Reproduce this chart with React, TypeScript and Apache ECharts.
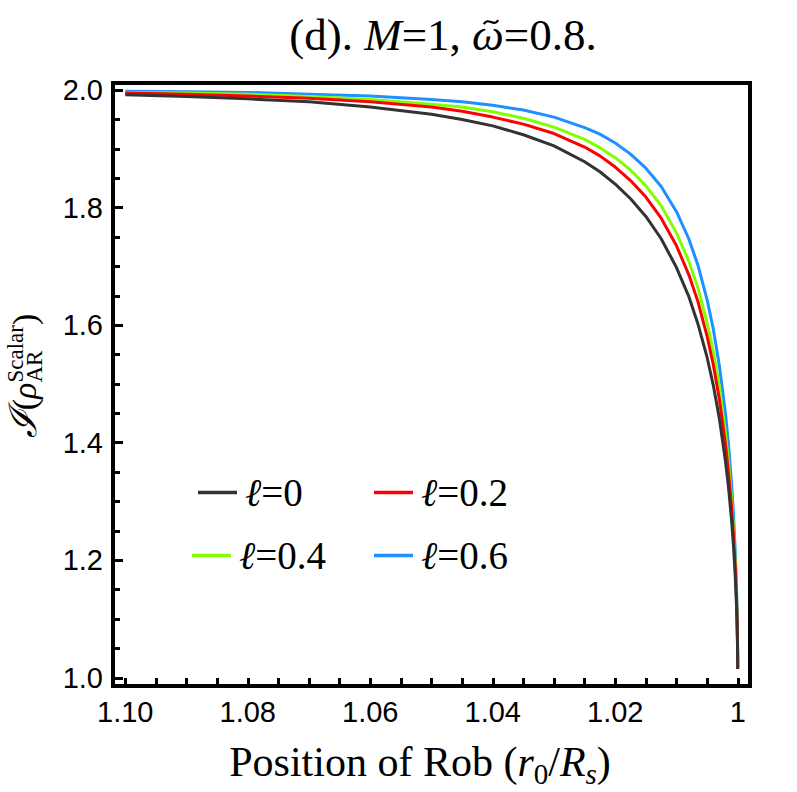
import React, { useEffect, useRef } from "react";
import * as echarts from "echarts";

// ---- data ----
const rPos = [1.000003, 1.00002, 1.00005, 1.0001, 1.0002, 1.0004, 1.0007, 1.001, 1.0015, 1.002, 1.003, 1.004, 1.005, 1.0065, 1.008, 1.01, 1.0125, 1.015, 1.0175, 1.02, 1.0225, 1.025, 1.03, 1.035, 1.04, 1.045, 1.05, 1.06, 1.07, 1.08, 1.09, 1.1];
const iL0 = [1.015, 1.039, 1.061, 1.086, 1.122, 1.171, 1.225, 1.267, 1.323, 1.368, 1.441, 1.498, 1.545, 1.602, 1.649, 1.698, 1.747, 1.785, 1.815, 1.84, 1.861, 1.878, 1.905, 1.924, 1.939, 1.950, 1.959, 1.971, 1.98, 1.985, 1.989, 1.992];
const iL02 = [1.016, 1.042, 1.066, 1.094, 1.132, 1.186, 1.244, 1.289, 1.349, 1.397, 1.474, 1.533, 1.581, 1.64, 1.686, 1.735, 1.782, 1.818, 1.846, 1.869, 1.888, 1.903, 1.926, 1.942, 1.954, 1.964, 1.971, 1.98, 1.986, 1.99, 1.993, 1.995];
const iL04 = [1.017, 1.044, 1.07, 1.099, 1.139, 1.195, 1.256, 1.303, 1.366, 1.416, 1.495, 1.555, 1.604, 1.663, 1.709, 1.757, 1.803, 1.837, 1.864, 1.885, 1.902, 1.916, 1.937, 1.952, 1.963, 1.971, 1.976, 1.984, 1.989, 1.993, 1.995, 1.996];
const iL06 = [1.019, 1.048, 1.076, 1.108, 1.152, 1.213, 1.278, 1.329, 1.396, 1.449, 1.531, 1.594, 1.643, 1.702, 1.747, 1.793, 1.836, 1.867, 1.891, 1.91, 1.925, 1.936, 1.954, 1.966, 1.974, 1.980, 1.984, 1.99, 1.993, 1.996, 1.997, 1.998];

const seriesNames = ["ℓ=0", "ℓ=0.2", "ℓ=0.4", "ℓ=0.6"];
const seriesColors = ["#333333", "#ff0000", "#80ff00", "#1e90ff"];

const xMajor = [1.0, 1.02, 1.04, 1.06, 1.08, 1.1];
const xTickLabels = ["1", "1.02", "1.04", "1.06", "1.08", "1.10"];
const xMinor = [1.0, 1.005, 1.01, 1.015, 1.02, 1.025, 1.03, 1.035, 1.04, 1.045, 1.05, 1.055, 1.06, 1.065, 1.07, 1.075, 1.08, 1.085, 1.09, 1.095, 1.1];
const yMajor = [1.0, 1.2, 1.4, 1.6, 1.8, 2.0];
const yTickLabels = ["1.0", "1.2", "1.4", "1.6", "1.8", "2.0"];
const yMinor = [1.05, 1.1, 1.15, 1.25, 1.3, 1.35, 1.45, 1.5, 1.55, 1.65, 1.7, 1.75, 1.85, 1.9, 1.95];

const X_MIN = 0.998, X_MAX = 1.102;
const Y_MIN = 0.986, Y_MAX = 2.012;

const SERIF = '"Liberation Serif", "Times New Roman", serif';
const SANS = '"Liberation Sans", Arial, sans-serif';

type Tok = { t: string; size: number; italic?: boolean; family?: string; dy?: number; stackWith?: Tok; tilde?: boolean; tildeDx?: number };

let measureCtx: CanvasRenderingContext2D | null = null;
function tw(font: string, text: string) {
  if (!measureCtx) measureCtx = document.createElement("canvas").getContext("2d");
  measureCtx!.font = font;
  return measureCtx!.measureText(text).width;
}
function fontOf(k: Tok) {
  return `${k.italic ? "italic " : ""}${k.size}px ${k.family || SERIF}`;
}
function txt(text: string, font: string, x: number, y: number, align = "left") {
  return { type: "text", x, y, style: { text, font, fill: "#000", textAlign: align, textVerticalAlign: "middle" } };
}
// lay tokens along a baseline at local y=0, centered at local x=0
function layout(tokens: Tok[]) {
  const widths = tokens.map((k) => {
    const w1 = tw(fontOf(k), k.t);
    const w2 = k.stackWith ? tw(fontOf(k.stackWith), k.stackWith.t) : 0;
    return Math.max(w1, w2);
  });
  const total = widths.reduce((a, b) => a + b, 0);
  let x = -total / 2;
  const els: any[] = [];
  tokens.forEach((k, i) => {
    const list = k.stackWith ? [k, k.stackWith] : [k];
    list.forEach((q) => {
      els.push(txt(q.t, fontOf(q), x, (q.dy || 0) - 0.34 * q.size));
    });
    if (k.tilde) {
      const cx = x + widths[i] / 2 + (k.tildeDx || 0);
      const cy = -0.62 * k.size;
      const hw = 0.16 * k.size;
      const a = 0.1 * k.size;
      els.push({
        type: "bezierCurve",
        shape: { x1: cx - hw, y1: cy + a * 0.45, cpx1: cx - hw * 0.35, cpy1: cy - a * 1.3, cpx2: cx + hw * 0.35, cpy2: cy + a * 1.3, x2: cx + hw, y2: cy - a * 0.45 },
        style: { stroke: "#000", lineWidth: 2.2, fill: null },
      });
    }
    x += widths[i];
  });
  return els;
}

function labelFrom(values: number[], labels: string[]) {
  return (v: number) => {
    for (let i = 0; i < values.length; i++) if (Math.abs(values[i] - v) < 1e-6) return labels[i];
    return "";
  };
}

export default function App() {
  const ref = useRef<HTMLDivElement>(null);
  useEffect(() => {
    const chart = echarts.init(ref.current!, null, { renderer: "svg" });
    const datas = [iL0, iL02, iL04, iL06];

    const titleTokens: Tok[] = [
      { t: "(d). ", size: 45 },
      { t: "M", size: 45, italic: true },
      { t: "=1, ", size: 45 },
      { t: "ω", size: 45, italic: true, tilde: true, tildeDx: 3 },
      { t: "=0.8.", size: 45 },
    ];
    const xNameTokens: Tok[] = [
      { t: "Position of Rob (", size: 42 },
      { t: "r", size: 42, italic: true },
      { t: "0", size: 29, dy: 8 },
      { t: "/", size: 42 },
      { t: "R", size: 42, italic: true },
      { t: "s", size: 29, italic: true, dy: 8 },
      { t: ")", size: 42 },
    ];
    const yNameTokens: Tok[] = [
      { t: "ℐ", size: 38, italic: true, family: '"DejaVu Serif", serif' },
      { t: "(", size: 34 },
      { t: "ρ", size: 34, italic: true },
      { t: "AR", size: 23, dy: 6, stackWith: { t: "Scalar", size: 23, dy: -13 } },
      { t: ")", size: 34 },
    ];

    const legendPos = [
      [198, 473],
      [374, 473],
      [192, 536],
      [374, 536],
    ];

    const option: any = {
      animation: false,
      backgroundColor: "#fff",
      grid: {
        left: 113,
        right: 47,
        top: 83,
        bottom: 106,
        show: true,
        borderColor: "#000",
        borderWidth: 4,
        backgroundColor: "transparent",
        containLabel: false,
        outerBoundsMode: "none",
      },
      xAxis: [
        {
          type: "value",
          inverse: true,
          min: X_MIN,
          max: X_MAX,
          axisLine: { show: false },
          splitLine: { show: false },
          axisTick: { show: true, inside: true, length: 8, lineStyle: { color: "#000", width: 3 }, customValues: xMinor },
          axisLabel: {
            customValues: xMajor,
            formatter: labelFrom(xMajor, xTickLabels),
            fontFamily: SANS,
            fontSize: 29,
            color: "#000",
            margin: 11,
          },
        },
      ],
      yAxis: [
        {
          type: "value",
          min: Y_MIN,
          max: Y_MAX,
          axisLine: { show: false },
          splitLine: { show: false },
          axisTick: { show: true, inside: true, length: 10, lineStyle: { color: "#000", width: 3 }, customValues: yMajor },
          axisLabel: {
            customValues: yMajor,
            formatter: labelFrom(yMajor, yTickLabels),
            fontFamily: SANS,
            fontSize: 29,
            color: "#000",
            margin: 10,
          },
        },
        {
          type: "value",
          position: "left",
          min: Y_MIN,
          max: Y_MAX,
          axisLine: { show: false },
          splitLine: { show: false },
          axisTick: { show: true, inside: true, length: 7, lineStyle: { color: "#000", width: 3 }, customValues: yMinor },
          axisLabel: { show: false },
        },
      ],
      legend: seriesNames.map((n, i) => ({
        data: [n],
        left: legendPos[i][0],
        top: legendPos[i][1],
        padding: 0,
        icon: "rect",
        itemWidth: 39,
        itemHeight: 3.5,
        selectedMode: false,
        formatter: (name: string) => `{i|ℓ}{n|${name.slice(1)}}`,
        textStyle: {
          color: "#000",
          padding: [0, 0, 0, 3],
          rich: {
            i: { fontFamily: SERIF, fontStyle: "italic", fontSize: 39, color: "#000" },
            n: { fontFamily: SERIF, fontSize: 39, color: "#000" },
          },
        },
      })),
      series: [3, 2, 1, 0].map((k) => ({
        name: seriesNames[k],
        type: "line",
        xAxisIndex: 0,
        yAxisIndex: 0,
        showSymbol: false,
        symbol: "none",
        smooth: false,
        color: seriesColors[k],
        lineStyle: { width: 3, color: seriesColors[k] },
        data: rPos.map((r, i) => [r, datas[k][i]]),
      })),
      graphic: [
        { type: "group", x: 443, y: 50, children: layout(titleTokens) },
        { type: "group", x: 420, y: 776, children: layout(xNameTokens) },
        { type: "group", x: 36, y: 376, rotation: Math.PI / 2, children: layout(yNameTokens) },
      ],
    };
    chart.setOption(option);
    return () => chart.dispose();
  }, []);
  return <div ref={ref} style={{ position: "absolute", left: 0, top: 0, width: 797, height: 792 }} />;
}
